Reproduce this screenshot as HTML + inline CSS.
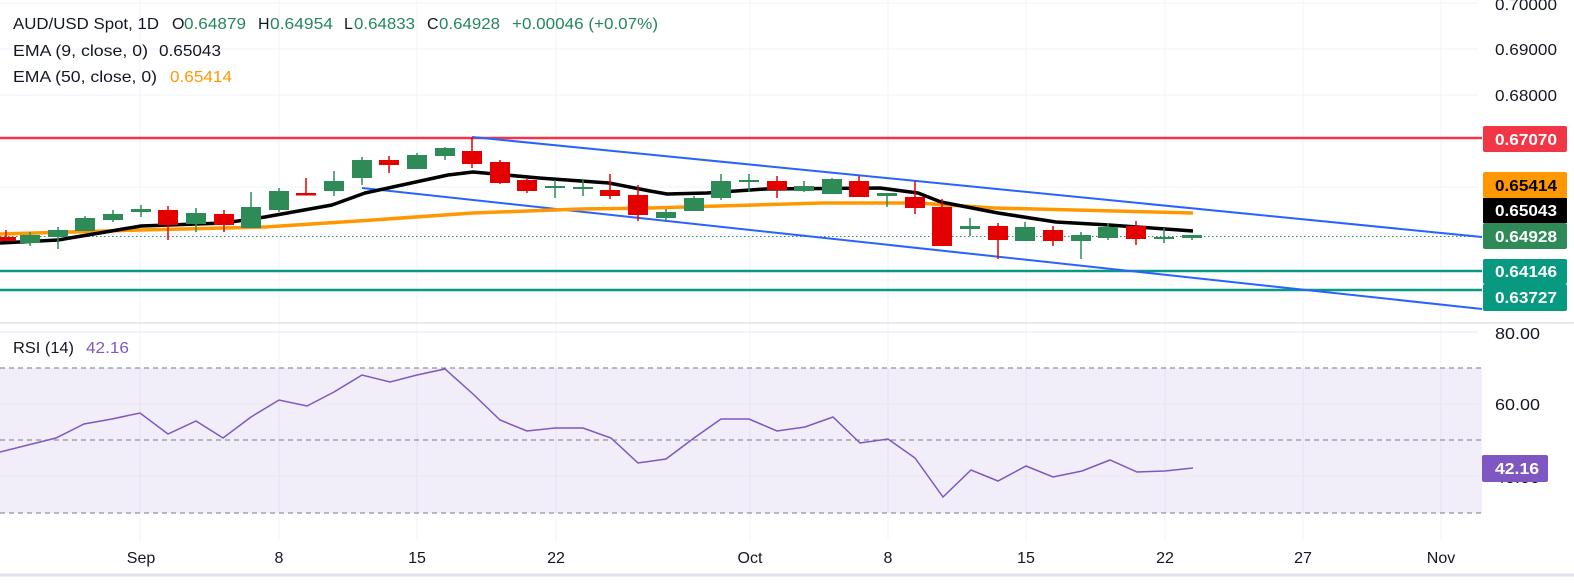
<!DOCTYPE html>
<html><head><meta charset="utf-8"><style>
html,body{margin:0;padding:0;background:#fff;}
body{width:1574px;height:578px;overflow:hidden;font-family:"Liberation Sans",sans-serif;}
svg text{font-family:"Liberation Sans",sans-serif;}
</style></head><body>
<svg width="1574" height="578" viewBox="0 0 1574 578" xmlns="http://www.w3.org/2000/svg">
<rect x="0" y="0" width="1574" height="578" fill="#fff"/>
<g stroke="#f0f3fa" stroke-width="1">
<line x1="0" y1="3" x2="1478" y2="3"/><line x1="0" y1="49" x2="1478" y2="49"/><line x1="0" y1="95" x2="1478" y2="95"/><line x1="0" y1="141" x2="1478" y2="141"/><line x1="0" y1="187" x2="1478" y2="187"/><line x1="0" y1="234" x2="1478" y2="234"/><line x1="0" y1="280" x2="1478" y2="280"/>
<line x1="140" y1="0" x2="140" y2="540"/><line x1="279" y1="0" x2="279" y2="540"/><line x1="417" y1="0" x2="417" y2="540"/><line x1="556" y1="0" x2="556" y2="540"/><line x1="750" y1="0" x2="750" y2="540"/><line x1="888" y1="0" x2="888" y2="540"/><line x1="1026" y1="0" x2="1026" y2="540"/><line x1="1165" y1="0" x2="1165" y2="540"/><line x1="1303" y1="0" x2="1303" y2="540"/><line x1="1441" y1="0" x2="1441" y2="540"/>
</g>
<line x1="0" y1="323" x2="1574" y2="323" stroke="#e0e3eb" stroke-width="1.5"/>
<line x1="0" y1="575" x2="1574" y2="575" stroke="#e0e3eb" stroke-width="3"/>
<line x1="0" y1="138" x2="1482" y2="138" stroke="#f23645" stroke-width="2.5"/>
<line x1="0" y1="271" x2="1482" y2="271" stroke="#089981" stroke-width="2.5"/>
<line x1="0" y1="290" x2="1482" y2="290" stroke="#089981" stroke-width="2.5"/>
<line x1="0" y1="236.5" x2="1482" y2="236.5" stroke="#2e8b57" stroke-width="1" stroke-dasharray="1.5,2.5"/>
<line x1="472" y1="137" x2="1482" y2="237" stroke="#2962ff" stroke-width="2"/>
<line x1="362" y1="188" x2="1482" y2="309" stroke="#2962ff" stroke-width="2"/>
<polyline fill="none" stroke="#ff9800" stroke-width="3.5" stroke-linejoin="round" points="0,234 141,230 265,227 373,220 473,213 580,209 650,208 822,203 918,203 994,208 1193,213"/>
<polyline fill="none" stroke="#000" stroke-width="3.5" stroke-linejoin="round" points="0,243 58,240 141,226 224,223 265,217 332,205 365,193 448,175 473,172 539,178 609,183 650,191 667,194 707,193 765,189 880,188 918,193 941,202 998,213 1056,222 1109,225 1193,231"/>
<g stroke-width="1.5">
<g stroke="#e50000" fill="#e50000"><line x1="6" y1="230" x2="6" y2="241"/><rect x="0" y="237" width="16" height="4" stroke="none"/></g>
<g stroke="#2e8b57" fill="#2e8b57"><line x1="30" y1="232" x2="30" y2="246"/><rect x="20" y="235" width="20" height="8" stroke="none"/></g>
<g stroke="#2e8b57" fill="#2e8b57"><line x1="58" y1="227" x2="58" y2="249"/><rect x="48" y="230" width="20" height="7" stroke="none"/></g>
<g stroke="#2e8b57" fill="#2e8b57"><line x1="85" y1="216" x2="85" y2="231"/><rect x="75" y="218" width="20" height="13" stroke="none"/></g>
<g stroke="#2e8b57" fill="#2e8b57"><line x1="113" y1="210" x2="113" y2="222"/><rect x="103" y="214" width="20" height="6" stroke="none"/></g>
<g stroke="#2e8b57" fill="#2e8b57"><line x1="141" y1="205" x2="141" y2="217"/><rect x="131" y="209" width="20" height="3" stroke="none"/></g>
<g stroke="#e50000" fill="#e50000"><line x1="168" y1="206" x2="168" y2="240"/><rect x="158" y="210" width="20" height="15" stroke="none"/></g>
<g stroke="#2e8b57" fill="#2e8b57"><line x1="196" y1="208" x2="196" y2="232"/><rect x="186" y="213" width="20" height="11" stroke="none"/></g>
<g stroke="#e50000" fill="#e50000"><line x1="224" y1="210" x2="224" y2="232"/><rect x="214" y="214" width="20" height="11" stroke="none"/></g>
<g stroke="#2e8b57" fill="#2e8b57"><line x1="251" y1="192" x2="251" y2="228"/><rect x="241" y="207" width="20" height="21" stroke="none"/></g>
<g stroke="#2e8b57" fill="#2e8b57"><line x1="279" y1="188" x2="279" y2="212"/><rect x="269" y="191" width="20" height="19" stroke="none"/></g>
<g stroke="#e50000" fill="#e50000"><line x1="306" y1="178" x2="306" y2="195"/><rect x="296" y="193" width="20" height="2.5" stroke="none"/></g>
<g stroke="#2e8b57" fill="#2e8b57"><line x1="334" y1="171" x2="334" y2="196"/><rect x="324" y="181" width="20" height="10" stroke="none"/></g>
<g stroke="#2e8b57" fill="#2e8b57"><line x1="362" y1="157" x2="362" y2="185"/><rect x="352" y="160" width="20" height="18" stroke="none"/></g>
<g stroke="#e50000" fill="#e50000"><line x1="389" y1="156" x2="389" y2="173"/><rect x="379" y="160" width="20" height="5" stroke="none"/></g>
<g stroke="#2e8b57" fill="#2e8b57"><line x1="417" y1="153" x2="417" y2="169"/><rect x="407" y="155" width="20" height="14" stroke="none"/></g>
<g stroke="#2e8b57" fill="#2e8b57"><line x1="445" y1="147" x2="445" y2="160"/><rect x="435" y="148" width="20" height="8" stroke="none"/></g>
<g stroke="#e50000" fill="#e50000"><line x1="472" y1="137" x2="472" y2="168"/><rect x="462" y="151" width="20" height="13" stroke="none"/></g>
<g stroke="#e50000" fill="#e50000"><line x1="500" y1="160" x2="500" y2="184"/><rect x="490" y="162" width="20" height="21" stroke="none"/></g>
<g stroke="#e50000" fill="#e50000"><line x1="527" y1="178" x2="527" y2="193"/><rect x="517" y="180" width="20" height="11" stroke="none"/></g>
<g stroke="#2e8b57" fill="#2e8b57"><line x1="555" y1="180" x2="555" y2="198"/><rect x="545" y="186" width="20" height="2" stroke="none"/></g>
<g stroke="#2e8b57" fill="#2e8b57"><line x1="583" y1="180" x2="583" y2="196"/><rect x="573" y="187" width="20" height="2" stroke="none"/></g>
<g stroke="#e50000" fill="#e50000"><line x1="610" y1="174" x2="610" y2="199"/><rect x="600" y="190" width="20" height="6" stroke="none"/></g>
<g stroke="#e50000" fill="#e50000"><line x1="638" y1="185" x2="638" y2="221"/><rect x="628" y="195" width="20" height="20" stroke="none"/></g>
<g stroke="#2e8b57" fill="#2e8b57"><line x1="666" y1="209" x2="666" y2="222"/><rect x="656" y="212" width="20" height="6" stroke="none"/></g>
<g stroke="#2e8b57" fill="#2e8b57"><line x1="694" y1="196" x2="694" y2="211"/><rect x="684" y="198" width="20" height="13" stroke="none"/></g>
<g stroke="#2e8b57" fill="#2e8b57"><line x1="721" y1="174" x2="721" y2="200"/><rect x="711" y="181" width="20" height="17" stroke="none"/></g>
<g stroke="#2e8b57" fill="#2e8b57"><line x1="749" y1="174" x2="749" y2="192"/><rect x="739" y="180" width="20" height="2" stroke="none"/></g>
<g stroke="#e50000" fill="#e50000"><line x1="777" y1="176" x2="777" y2="198"/><rect x="767" y="181" width="20" height="9" stroke="none"/></g>
<g stroke="#2e8b57" fill="#2e8b57"><line x1="804" y1="181" x2="804" y2="192"/><rect x="794" y="186" width="20" height="5" stroke="none"/></g>
<g stroke="#2e8b57" fill="#2e8b57"><line x1="832" y1="178" x2="832" y2="194"/><rect x="822" y="179" width="20" height="15" stroke="none"/></g>
<g stroke="#e50000" fill="#e50000"><line x1="859" y1="176" x2="859" y2="197"/><rect x="849" y="181" width="20" height="16" stroke="none"/></g>
<g stroke="#2e8b57" fill="#2e8b57"><line x1="887" y1="193" x2="887" y2="207"/><rect x="877" y="193" width="20" height="3" stroke="none"/></g>
<g stroke="#e50000" fill="#e50000"><line x1="915" y1="181" x2="915" y2="214"/><rect x="905" y="197" width="20" height="11" stroke="none"/></g>
<g stroke="#e50000" fill="#e50000"><line x1="942" y1="199" x2="942" y2="246"/><rect x="932" y="207" width="20" height="39" stroke="none"/></g>
<g stroke="#2e8b57" fill="#2e8b57"><line x1="970" y1="218" x2="970" y2="236"/><rect x="960" y="226" width="20" height="3" stroke="none"/></g>
<g stroke="#e50000" fill="#e50000"><line x1="998" y1="223" x2="998" y2="259"/><rect x="988" y="226" width="20" height="14" stroke="none"/></g>
<g stroke="#2e8b57" fill="#2e8b57"><line x1="1025" y1="222" x2="1025" y2="241"/><rect x="1015" y="227" width="20" height="14" stroke="none"/></g>
<g stroke="#e50000" fill="#e50000"><line x1="1053" y1="226" x2="1053" y2="246"/><rect x="1043" y="230" width="20" height="11" stroke="none"/></g>
<g stroke="#2e8b57" fill="#2e8b57"><line x1="1081" y1="232" x2="1081" y2="259"/><rect x="1071" y="235" width="20" height="6" stroke="none"/></g>
<g stroke="#2e8b57" fill="#2e8b57"><line x1="1108" y1="223" x2="1108" y2="240"/><rect x="1098" y="227" width="20" height="11" stroke="none"/></g>
<g stroke="#e50000" fill="#e50000"><line x1="1136" y1="221" x2="1136" y2="245"/><rect x="1126" y="226" width="20" height="13" stroke="none"/></g>
<g stroke="#2e8b57" fill="#2e8b57"><line x1="1164" y1="228" x2="1164" y2="243"/><rect x="1154" y="237" width="20" height="2" stroke="none"/></g>
<g stroke="#2e8b57" fill="#2e8b57"><line x1="1192" y1="235" x2="1192" y2="240"/><rect x="1182" y="235" width="20" height="3" stroke="none"/></g>
</g>
<g font-size="16" fill="#131722">
<text x="13" y="29" textLength="146" lengthAdjust="spacingAndGlyphs">AUD/USD Spot, 1D</text>
<text x="172" y="29">O</text><text x="184" y="29" fill="#22875a" textLength="62" lengthAdjust="spacingAndGlyphs">0.64879</text>
<text x="258" y="29">H</text><text x="270" y="29" fill="#22875a" textLength="63" lengthAdjust="spacingAndGlyphs">0.64954</text>
<text x="344" y="29">L</text><text x="354" y="29" fill="#22875a" textLength="61" lengthAdjust="spacingAndGlyphs">0.64833</text>
<text x="427" y="29">C</text><text x="439" y="29" fill="#22875a" textLength="61" lengthAdjust="spacingAndGlyphs">0.64928</text>
<text x="512" y="29" fill="#22875a" textLength="146" lengthAdjust="spacingAndGlyphs">+0.00046 (+0.07%)</text>
<text x="13" y="56" textLength="135" lengthAdjust="spacingAndGlyphs">EMA (9, close, 0)</text><text x="159" y="56" textLength="62" lengthAdjust="spacingAndGlyphs">0.65043</text>
<text x="13" y="82" textLength="144" lengthAdjust="spacingAndGlyphs">EMA (50, close, 0)</text><text x="170" y="82" fill="#ff9800" textLength="62" lengthAdjust="spacingAndGlyphs">0.65414</text>
<text x="13" y="353" textLength="61" lengthAdjust="spacingAndGlyphs">RSI (14)</text><text x="86" y="353" fill="#7e57c2" textLength="43" lengthAdjust="spacingAndGlyphs">42.16</text>
</g>
<g font-size="16" fill="#131722">
<text x="1495" y="10" textLength="62" lengthAdjust="spacingAndGlyphs">0.70000</text>
<text x="1495" y="55" textLength="62" lengthAdjust="spacingAndGlyphs">0.69000</text>
<text x="1495" y="101" textLength="62" lengthAdjust="spacingAndGlyphs">0.68000</text>
<text x="1495" y="339" textLength="45" lengthAdjust="spacingAndGlyphs">80.00</text>
<text x="1495" y="410" textLength="45" lengthAdjust="spacingAndGlyphs">60.00</text>
<text x="1495" y="483" textLength="45" lengthAdjust="spacingAndGlyphs">40.00</text>
</g>
<g font-size="16" font-weight="bold">
<rect x="1483" y="126" width="84" height="26" rx="2" fill="#f23645"/><text x="1495" y="145" fill="#fff" textLength="62" lengthAdjust="spacingAndGlyphs">0.67070</text>
<rect x="1483" y="172" width="84" height="26" rx="2" fill="#ff9800"/><text x="1495" y="191" fill="#000" textLength="62" lengthAdjust="spacingAndGlyphs">0.65414</text>
<rect x="1483" y="198" width="84" height="25" fill="#000"/><text x="1495" y="216" fill="#fff" textLength="62" lengthAdjust="spacingAndGlyphs">0.65043</text>
<rect x="1483" y="223" width="84" height="26" rx="2" fill="#2e8b57"/><text x="1495" y="242" fill="#fff" textLength="62" lengthAdjust="spacingAndGlyphs">0.64928</text>
<rect x="1483" y="259" width="84" height="25" rx="2" fill="#089981"/><text x="1495" y="277" fill="#fff" textLength="62" lengthAdjust="spacingAndGlyphs">0.64146</text>
<rect x="1483" y="284" width="84" height="27" rx="2" fill="#089981"/><text x="1495" y="303" fill="#fff" textLength="62" lengthAdjust="spacingAndGlyphs">0.63727</text>
</g>
<rect x="0" y="368" width="1482" height="145" fill="#7e57c2" fill-opacity="0.1"/>
<g stroke="#e8e6f0"><line x1="0" y1="332" x2="1478" y2="332"/><line x1="0" y1="404" x2="1478" y2="404"/><line x1="0" y1="476" x2="1478" y2="476"/></g>
<g stroke="#787b86" stroke-width="1" stroke-dasharray="5,4">
<line x1="0" y1="368" x2="1482" y2="368"/><line x1="0" y1="440" x2="1482" y2="440"/><line x1="0" y1="513" x2="1482" y2="513"/></g>
<polyline fill="none" stroke="#7e57c2" stroke-width="1.5" points="0,452 28,445 56,438 84,424 112,419 140,413 168,434 196,421 223,438 251,417 279,400 307,406 334,392 362,375 390,382 417,375 445,369 473,394 500,420 527,431 555,428 583,428 611,438 638,463 666,459 694,438 721,419 749,419 777,431 805,427 833,417 860,443 888,439 915,458 943,497 971,470 998,481 1026,466 1053,477 1082,471 1110,460 1137,472 1165,471 1193,468"/>
<rect x="1482" y="455" width="66" height="27" rx="2" fill="#7e57c2"/><text x="1495" y="474" font-size="16" font-weight="bold" fill="#fff" textLength="44" lengthAdjust="spacingAndGlyphs">42.16</text>
<g font-size="16" fill="#131722" text-anchor="middle">
<text x="141" y="563">Sep</text><text x="279" y="563">8</text><text x="417" y="563">15</text><text x="556" y="563">22</text><text x="750" y="563">Oct</text><text x="888" y="563">8</text><text x="1026" y="563">15</text><text x="1165" y="563">22</text><text x="1303" y="563">27</text><text x="1441" y="563">Nov</text>
</g>
</svg>
</body></html>
